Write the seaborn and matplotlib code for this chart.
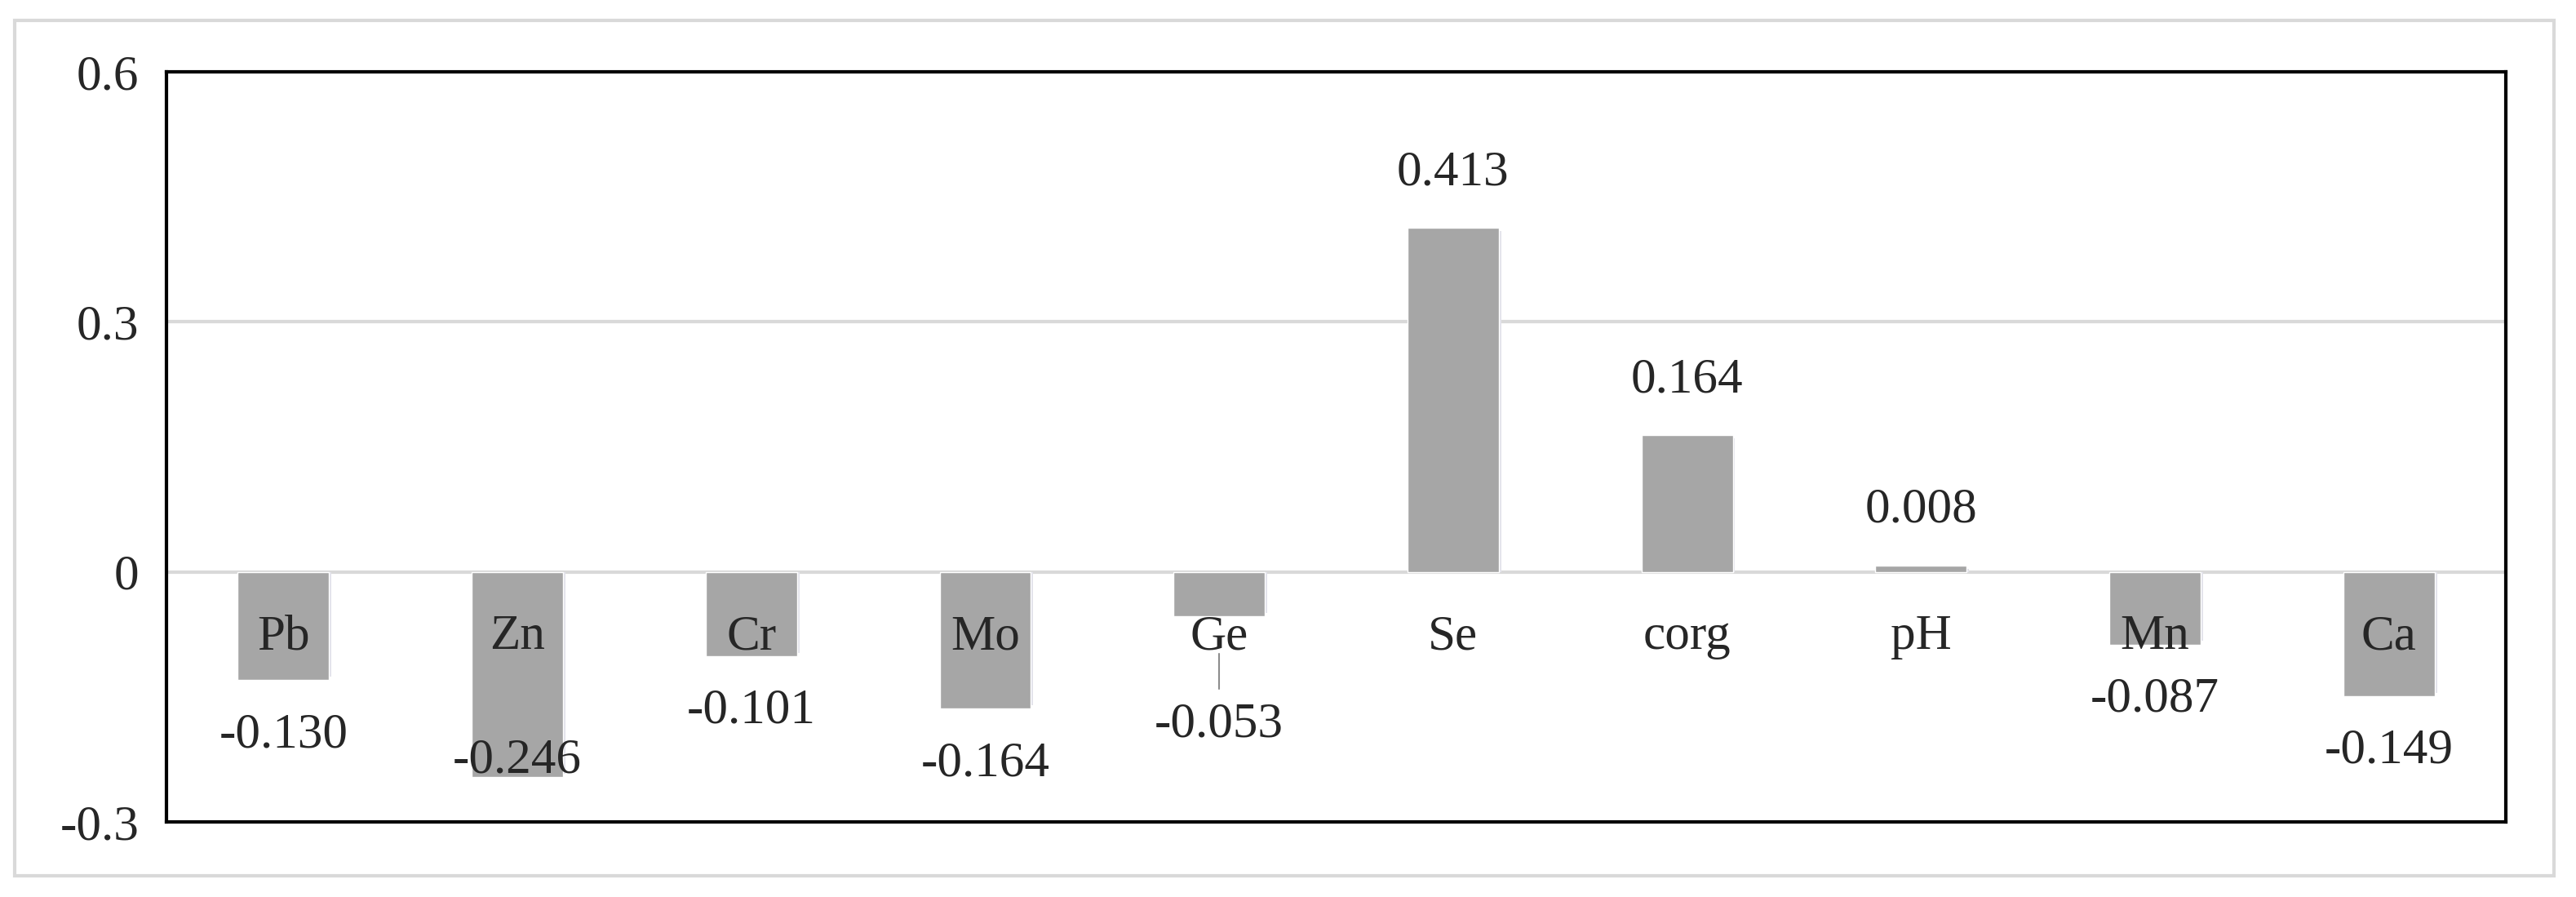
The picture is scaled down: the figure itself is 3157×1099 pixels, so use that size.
import numpy as np
import pandas as pd
import matplotlib.pyplot as plt
import seaborn as sns
from matplotlib.patches import Rectangle

# Dados do gráfico
elements = ["Pb", "Zn", "Cr", "Mo", "Ge", "Se", "corg", "pH", "Mn", "Ca"]
coefs = [-0.130, -0.246, -0.101, -0.164, -0.053, 0.413, 0.164, 0.008, -0.087, -0.149]
y_ticks = [-0.3, 0, 0.3, 0.6]
y_tick_labels = ["-0.3", "0", "0.3", "0.6"]

df = pd.DataFrame({"element": elements, "coef": coefs})

sns.set_style("white")
plt.rcParams["font.family"] = ["Liberation Serif", "DejaVu Serif"]
fs = 44

fig = plt.figure(figsize=(31.57, 10.99), dpi=100)
ax = fig.add_axes([0.0646, 0.0837, 0.9082, 0.8362])

# moldura externa cinza clara
fig.patches.append(Rectangle((0.0057, 0.0237), 0.9857, 0.9536, transform=fig.transFigure,
                             fill=False, edgecolor="#d9d9d9", linewidth=3))

# sombra leve das barras
for i, v in enumerate(coefs):
    ax.add_patch(Rectangle((i - 0.195 + 0.01, 0), 0.39, v - 0.004 * np.sign(v),
                           facecolor="#e2e2ea", edgecolor="none", zorder=1.5))

sns.barplot(data=df, x="element", y="coef", color="#a6a6a6", width=0.39,
            saturation=1, ax=ax, zorder=2)

ax.set_ylim(-0.3, 0.6)
ax.set_xlim(-0.5, len(elements) - 0.5)
ax.set_yticks(y_ticks)
ax.set_yticklabels(y_tick_labels, fontsize=fs)
ax.tick_params(axis="y", length=0, pad=24)
ax.set_xticks([])
ax.set_xlabel("")
ax.set_ylabel("")

for y in [0, 0.3]:
    ax.axhline(y, color="#d9d9d9", linewidth=3, zorder=1)

for s in ax.spines.values():
    s.set_visible(True)
    s.set_color("black")
    s.set_linewidth(3)

# rótulos das categorias logo abaixo do zero
for i, name in enumerate(elements):
    ax.text(i, -0.078, name, ha="center", va="center", fontsize=fs, zorder=3)

# rótulos de valores
nudge = {"Zn": -0.226, "Ge": -0.183}
for i, (name, v) in enumerate(zip(elements, coefs)):
    y = v + 0.066 if v >= 0 else v - 0.066
    y = nudge.get(name, y)
    ax.text(i, y, f"{v:.3f}", ha="center", va="center", fontsize=fs, zorder=3)

# linha de chamada do Ge
gi = elements.index("Ge")
ax.plot([gi, gi], [-0.098, -0.140], color="#8c8c8c", linewidth=1.5, zorder=3)

fig.savefig("out.png", dpi=100, facecolor="white")
